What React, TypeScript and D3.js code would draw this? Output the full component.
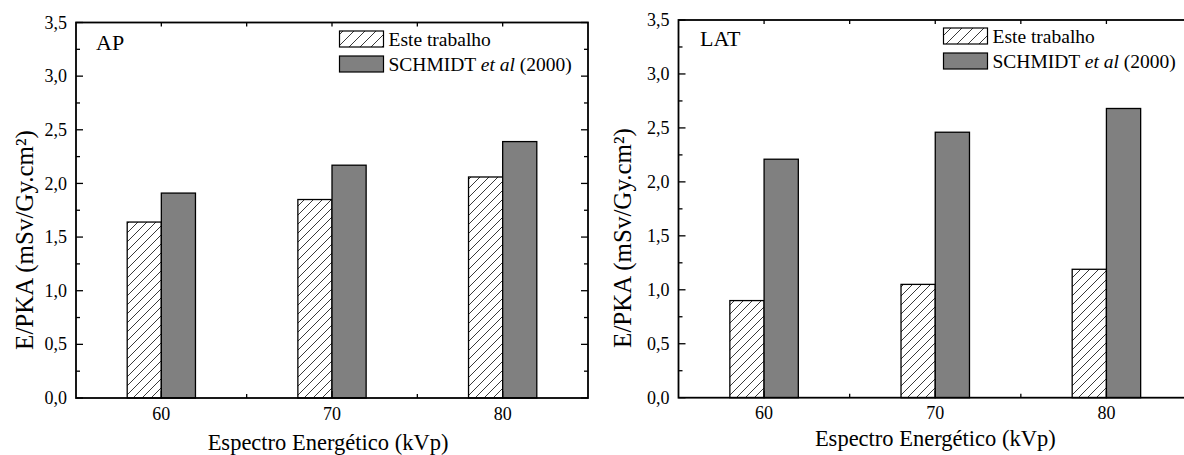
import React from "react";
import * as d3 from "d3";

// E/PKA conversion coefficients per tube potential, AP and LAT projections
const kvp = [60, 70, 80];
const apThisWork = [1.64, 1.85, 2.06];
const apSchmidt = [1.91, 2.17, 2.39];
const latThisWork = [0.9, 1.05, 1.19];
const latSchmidt = [2.21, 2.46, 2.68];
const yTicks = [0, 0.5, 1, 1.5, 2, 2.5, 3, 3.5];
const seriesNames = ["Este trabalho", "SCHMIDT"];

const W = 1184;
const H = 455;
const FONT = "Liberation Serif, DejaVu Serif, serif";
const GRAY = "#808080";

type PanelProps = {
  id: string;
  label: string;
  a: number[];
  b: number[];
  x0: number;
  x1: number;
  yTop: number;
  yBot: number;
  tickBase: number;
  titleBase: number;
  yTitleX: number;
  yTitleY: number;
  labelX: number;
  labelY: number;
  legX: number;
  legY: number;
};

function Panel(p: PanelProps) {
  const x = d3.scaleLinear().domain([55, 85]).range([p.x0, p.x1]);
  const y = d3.scaleLinear().domain([0, 3.5]).range([p.yBot, p.yTop]);
  const barW = x(57) - x(55);
  const minorY = d3.range(0, 3.5001, 0.25);
  const xTicksAll = [60, 65, 70, 75, 80];
  const fmt = (v: number) => d3.format(".1f")(v).replace(".", ",");
  const sw = 44;
  const sh = 16;
  const txt = { fontFamily: FONT };

  return (
    <g>
      {/* bars */}
      {kvp.map((k, i) => (
        <g key={k}>
          <rect
            x={x(k) - barW}
            y={y(p.a[i])}
            width={barW}
            height={y(0) - y(p.a[i])}
            fill="url(#hatch)"
            stroke="#000"
            strokeWidth={1.3}
          />
          <rect
            x={x(k)}
            y={y(p.b[i])}
            width={barW}
            height={y(0) - y(p.b[i])}
            fill={GRAY}
            stroke="#000"
            strokeWidth={1.3}
          />
        </g>
      ))}

      {/* frame */}
      <rect
        x={p.x0}
        y={p.yTop}
        width={p.x1 - p.x0}
        height={p.yBot - p.yTop}
        fill="none"
        stroke="#000"
        strokeWidth={1.8}
      />

      {/* y ticks, inward on both sides */}
      {minorY.map((v, i) => {
        const major = i % 2 === 0;
        const len = major ? 7 : 4;
        return (
          <g key={"yt" + i}>
            <line x1={p.x0} x2={p.x0 + len} y1={y(v)} y2={y(v)} stroke="#000" strokeWidth={1.3} />
            <line x1={p.x1} x2={p.x1 - len} y1={y(v)} y2={y(v)} stroke="#000" strokeWidth={1.3} />
          </g>
        );
      })}
      {/* x ticks, inward on both sides */}
      {xTicksAll.map((v, i) => {
        const len = i % 2 === 0 ? 7 : 4;
        return (
          <g key={"xt" + v}>
            <line x1={x(v)} x2={x(v)} y1={p.yBot} y2={p.yBot - len} stroke="#000" strokeWidth={1.3} />
            <line x1={x(v)} x2={x(v)} y1={p.yTop} y2={p.yTop + 4} stroke="#000" strokeWidth={1.3} />
          </g>
        );
      })}

      {/* tick labels */}
      {yTicks.map((v) => (
        <text
          key={"yl" + v}
          x={p.x0 - 9}
          y={y(v)}
          dy="0.34em"
          textAnchor="end"
          fontSize={18}
          style={txt}
        >
          {fmt(v)}
        </text>
      ))}
      {kvp.map((k) => (
        <text key={"xl" + k} x={x(k)} y={p.tickBase} textAnchor="middle" fontSize={18} style={txt}>
          {k}
        </text>
      ))}

      {/* axis titles */}
      <text
        x={(p.x0 + Math.min(p.x1, W)) / 2 + (p.x1 > W ? 4 : -4)}
        y={p.titleBase}
        textAnchor="middle"
        fontSize={22.5}
        style={txt}
      >
        Espectro Energético (kVp)
      </text>
      <text
        transform={`translate(${p.yTitleX},${p.yTitleY}) rotate(-90)`}
        textAnchor="middle"
        fontSize={25}
        style={txt}
      >
        E/PKA (mSv/Gy.cm²)
      </text>

      {/* panel label */}
      <text x={p.labelX} y={p.labelY} fontSize={22} style={txt}>
        {p.label}
      </text>

      {/* legend */}
      <rect x={p.legX} y={p.legY} width={sw} height={sh} fill="url(#hatchLegend)" stroke="#000" strokeWidth={1.2} />
      <text x={p.legX + sw + 5} y={p.legY + 14.5} fontSize={19.5} style={txt}>
        {seriesNames[0]}
      </text>
      <rect x={p.legX} y={p.legY + 25} width={sw} height={sh} fill={GRAY} stroke="#000" strokeWidth={1.2} />
      <text x={p.legX + sw + 5} y={p.legY + 39.5} fontSize={19.5} style={txt}>
        {seriesNames[1]} <tspan fontStyle="italic">et al</tspan> (2000)
      </text>
    </g>
  );
}

export default function App() {
  return (
    <svg
      width={W}
      height={H}
      style={{ position: "absolute", left: 0, top: 0, background: "#fff" }}
    >
      <defs>
        <pattern id="hatch" patternUnits="userSpaceOnUse" width={9} height={9}>
          <rect width={9} height={9} fill="#fff" />
          <path d="M0,9 L9,0 M-2,2 L2,-2 M7,11 L11,7" stroke="#222" strokeWidth={0.9} />
        </pattern>
        <pattern id="hatchLegend" patternUnits="userSpaceOnUse" width={11} height={11}>
          <rect width={11} height={11} fill="#fff" />
          <path d="M0,11 L11,0 M-2,2 L2,-2 M9,13 L13,9" stroke="#222" strokeWidth={0.9} />
        </pattern>
      </defs>
      <rect width={W} height={H} fill="#fff" />
      <Panel
        id="ap"
        label="AP"
        a={apThisWork}
        b={apSchmidt}
        x0={76}
        x1={588}
        yTop={22.5}
        yBot={398}
        tickBase={420}
        titleBase={450}
        yTitleX={33}
        yTitleY={240}
        labelX={96}
        labelY={50}
        legX={339.5}
        legY={31}
      />
      <Panel
        id="lat"
        label="LAT"
        a={latThisWork}
        b={latSchmidt}
        x0={678.5}
        x1={1192}
        yTop={20}
        yBot={397.7}
        tickBase={419}
        titleBase={446}
        yTitleX={631}
        yTitleY={238}
        labelX={700}
        labelY={45.5}
        legX={943.5}
        legY={28}
      />
    </svg>
  );
}
